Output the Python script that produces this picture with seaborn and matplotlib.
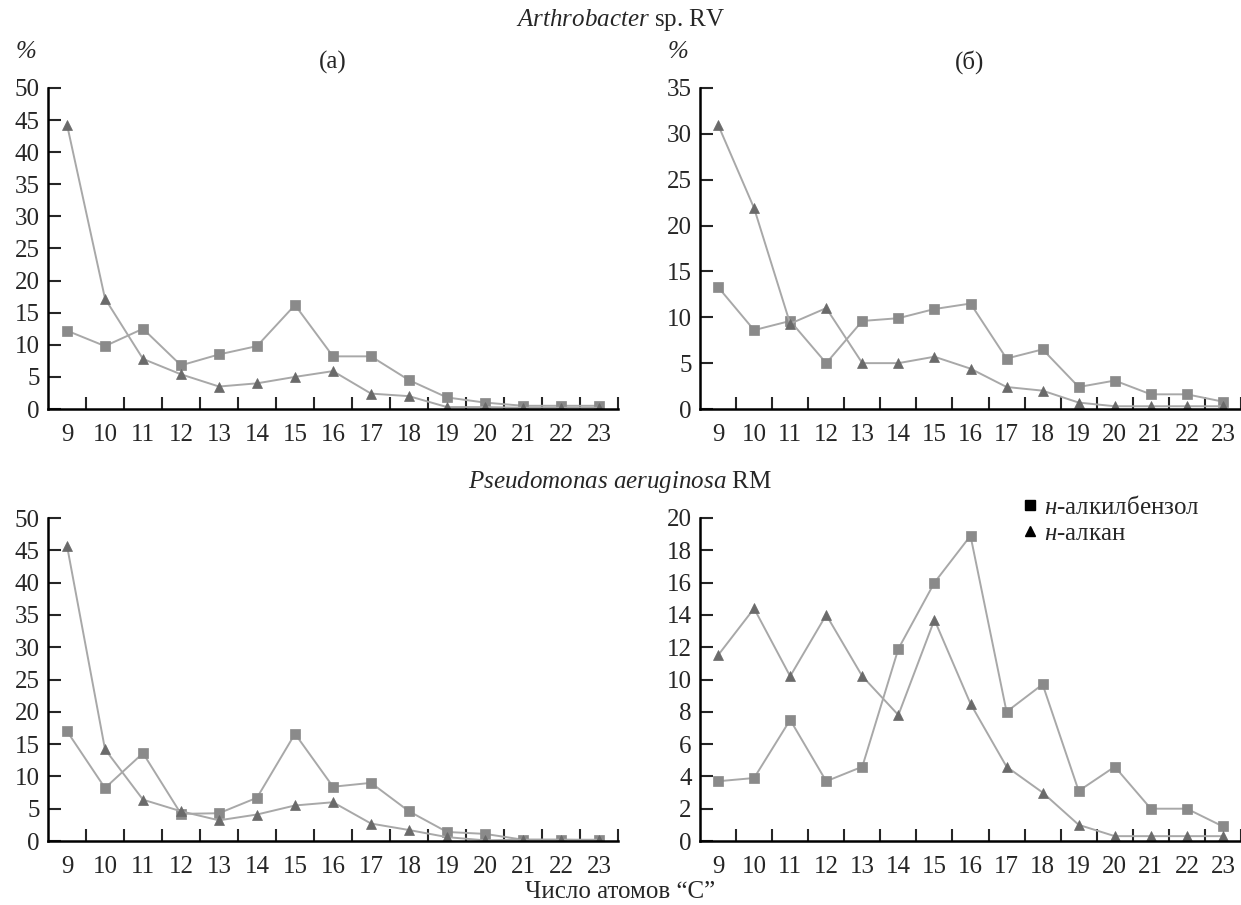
import numpy as np
import pandas as pd
import matplotlib
matplotlib.use("Agg")
import matplotlib.pyplot as plt
from matplotlib.lines import Line2D
from matplotlib.ticker import MultipleLocator, FixedLocator
import seaborn as sns

carbon = list(range(9, 24))

# Arthrobacter sp. RV
arth_a_benz = [12.2, 9.8, 12.5, 6.8, 8.5, 9.8, 16.2, 8.2, 8.2, 4.5, 1.8, 1.0, 0.5, 0.5, 0.5]
arth_a_alk = [44.3, 17.2, 7.8, 5.4, 3.5, 4.0, 5.0, 5.9, 2.4, 2.0, 0.3, 0.3, 0.2, 0.2, 0.2]
arth_b_benz = [13.3, 8.6, 9.6, 5.0, 9.6, 9.9, 10.9, 11.5, 5.5, 6.5, 2.4, 3.1, 1.6, 1.6, 0.8]
arth_b_alk = [31.0, 21.9, 9.3, 11.0, 5.0, 5.0, 5.7, 4.4, 2.4, 2.0, 0.7, 0.3, 0.3, 0.3, 0.3]

# Pseudomonas aeruginosa RM
pse_a_benz = [17.0, 8.2, 13.6, 4.2, 4.3, 6.7, 16.6, 8.4, 9.0, 4.6, 1.4, 1.1, 0.2, 0.2, 0.1]
pse_a_alk = [45.7, 14.2, 6.4, 4.6, 3.2, 4.1, 5.5, 6.0, 2.7, 1.7, 0.6, 0.1, 0.2, 0.2, 0.2]
pse_b_benz = [3.7, 3.9, 7.5, 3.7, 4.6, 11.9, 16.0, 18.9, 8.0, 9.7, 3.1, 4.6, 2.0, 2.0, 0.9]
pse_b_alk = [11.5, 14.4, 10.2, 14.0, 10.2, 7.8, 13.7, 8.5, 4.6, 3.0, 1.0, 0.3, 0.3, 0.3, 0.3]

ymax = [50, 35, 50, 20]
ystep = [5, 5, 5, 2]

sns.set_style("white")
plt.rcParams["font.family"] = ["Liberation Serif", "DejaVu Serif"]
plt.rcParams["mathtext.fontset"] = "custom"
plt.rcParams["mathtext.rm"] = "Liberation Serif"
plt.rcParams["mathtext.it"] = "Liberation Serif:italic"

fs = 18
line_col = "#a8a8a8"
sq_col = "#8a8a8a"
tri_col = "#6a6a6a"

fig = plt.figure(figsize=(12.41, 9.05), dpi=100)
W, H = 1241, 905
boxes = [(48, 88, 618, 409), (700, 88, 1241, 409),
         (48, 518, 618, 841), (700, 518, 1241, 841)]
axes = []
for (x0, y0, x1, y1) in boxes:
    axes.append(fig.add_axes([x0 / W, 1 - y1 / H, (x1 - x0) / W, (y1 - y0) / H]))

panels = [(arth_a_benz, arth_a_alk), (arth_b_benz, arth_b_alk),
          (pse_a_benz, pse_a_alk), (pse_b_benz, pse_b_alk)]

for i, (ax, (benz, alk)) in enumerate(zip(axes, panels)):
    df = pd.DataFrame({"C": carbon, "benz": benz, "alk": alk})
    sns.lineplot(data=df, x="C", y="benz", ax=ax, color=line_col, lw=1.4,
                 marker="s", markersize=6.5, markerfacecolor=sq_col,
                 markeredgecolor=sq_col, markeredgewidth=0.5)
    sns.lineplot(data=df, x="C", y="alk", ax=ax, color=line_col, lw=1.4,
                 marker="^", markersize=7.5, markerfacecolor=tri_col,
                 markeredgecolor=tri_col, markeredgewidth=0.5)
    ax.set_xlim(8.5, 23.5)
    ax.set_ylim(0, ymax[i])
    ax.set_xlabel("")
    ax.set_ylabel("")
    ax.xaxis.set_major_locator(FixedLocator(carbon))
    ax.xaxis.set_minor_locator(FixedLocator(np.arange(9.5, 24, 1.0)))
    ax.yaxis.set_major_locator(MultipleLocator(ystep[i]))
    ax.tick_params(axis="x", which="major", length=0, pad=11, labelsize=fs)
    ax.tick_params(axis="x", which="minor", direction="in", length=9, width=1.5, bottom=True)
    ax.tick_params(axis="y", direction="in", length=9, width=1.5, pad=6, labelsize=fs, left=True)
    sns.despine(ax=ax)
    for s in ["left", "bottom"]:
        ax.spines[s].set_linewidth(1.8)
        ax.spines[s].set_color("black")

fig.text(0.5, 1 - 20 / H, r"$\mathit{Arthrobacter}$ sp. RV", ha="center", va="center", fontsize=fs)
fig.text(0.5, 1 - 482 / H, r"$\mathit{Pseudomonas\ aeruginosa}$ RM", ha="center", va="center", fontsize=fs)
fig.text(0.5, 1 - 892 / H, "Число атомов “С”", ha="center", va="center", fontsize=fs)
fig.text(16 / W, 1 - 52 / H, "%", ha="left", va="center", fontsize=fs, style="italic")
fig.text(668 / W, 1 - 52 / H, "%", ha="left", va="center", fontsize=fs, style="italic")
fig.text(333 / W, 1 - 62 / H, "(а)", ha="center", va="center", fontsize=fs)
fig.text(970 / W, 1 - 62 / H, "(б)", ha="center", va="center", fontsize=fs)

handles = [Line2D([], [], ls="none", marker="s", color="black", markersize=7),
           Line2D([], [], ls="none", marker="^", color="black", markersize=7)]
labels = [r"$\mathit{н}$-алкилбензол", r"$\mathit{н}$-алкан"]
axes[3].legend(handles, labels, loc="upper left", bbox_to_anchor=(0.58, 1.10),
               frameon=False, fontsize=fs, handlelength=0.5, handletextpad=0.3,
               labelspacing=0.15, borderaxespad=0)

fig.savefig("out.png", dpi=100)
